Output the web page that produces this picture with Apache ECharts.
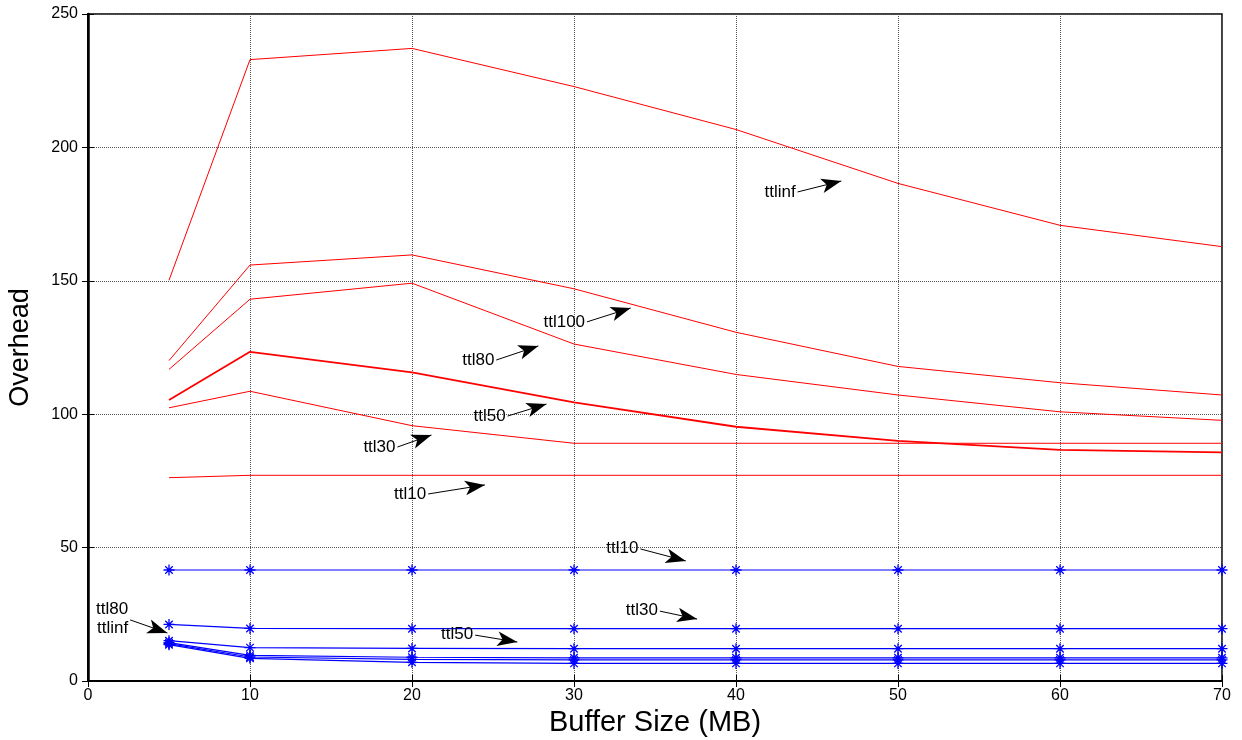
<!DOCTYPE html>
<html>
<head>
<meta charset="utf-8">
<script src="https://cdn.jsdelivr.net/npm/echarts@6/dist/echarts.min.js"></script>
<style>
  html, body { margin: 0; padding: 0; background: #fff; }
  #chart { width: 1242px; height: 740px; }
</style>
</head>
<body>
<div id="chart"></div>
<script>
const bufferSizes = [5, 10, 20, 30, 40, 50, 60, 70];

// red curves
const ttlinfRed = [150.2, 232.9, 237.1, 222.8, 206.7, 186.5, 170.8, 162.8];
const ttl100Red = [120.1, 155.9, 159.7, 147.0, 130.7, 117.9, 111.8, 107.2];
const ttl80Red = [116.8, 143.1, 149.1, 126.3, 114.9, 107.2, 100.9, 97.7];
const ttl50Red = [105.3, 123.4, 115.7, 104.4, 95.3, 90.0, 86.6, 85.7];
const ttl30Red = [102.4, 108.6, 95.7, 89.1, 89.1, 89.1, 89.1, 89.1];
const ttl10Red = [76.2, 77.1, 77.1, 77.1, 77.1, 77.1, 77.1, 77.1];

// blue curves (with * markers)
const ttl10Blue = [41.6, 41.6, 41.6, 41.6, 41.6, 41.6, 41.6, 41.6];
const ttl30Blue = [21.2, 19.7, 19.6, 19.6, 19.6, 19.6, 19.6, 19.6];
const ttl50Blue = [15.1, 12.5, 12.2, 12.1, 12.1, 12.1, 12.1, 12.1];
const ttl80Blue = [14.4, 9.6, 8.9, 8.7, 8.7, 8.7, 8.7, 8.7];
const ttl100Blue = [14.0, 9.0, 8.1, 7.9, 7.9, 7.9, 7.9, 7.9];
const ttlinfBlue = [13.6, 8.5, 7.0, 6.6, 6.6, 6.6, 6.6, 6.6];

// annotations: text, arrow start [x, y], arrow end [x, y]
const annotationText = ['ttlinf', 'ttl100', 'ttl80', 'ttl50', 'ttl30', 'ttl10',
  'ttl10', 'ttl30', 'ttl50', 'ttl80\nttlinf'];
const annotationFrom = [[43.8, 183.3], [30.8, 134.6], [25.2, 120.3], [25.9, 99.3], [19.1, 87.7],
  [21.0, 70.1], [34.1, 49.5], [35.3, 26.2], [23.9, 17.2], [2.6, 22.9]];
const annotationTo = [[46.5, 187.4], [33.5, 139.8], [27.8, 125.6], [28.3, 103.8], [21.2, 92.2],
  [24.5, 73.5], [36.9, 45.0], [37.6, 23.2], [26.5, 14.6], [4.9, 18.0]];

const xTicks = { min: 0, max: 70, interval: 10 };
const yTicks = { min: 0, max: 250, interval: 50 };

const FONT = '"Liberation Sans", Arial, sans-serif';
const asterisk = 'path://M0,5L10,5M5,0L5,10M1.6,1.6L8.4,8.4M8.4,1.6L1.6,8.4';

function pairs(values) {
  return bufferSizes.map((x, i) => [x, values[i]]);
}

function redSeries(name, values, width) {
  return {
    name: name,
    type: 'line',
    data: pairs(values),
    showSymbol: false,
    symbol: 'none',
    lineStyle: { color: '#ff0000', width: width || 1 },
    itemStyle: { color: '#ff0000' },
    emphasis: { disabled: true },
    silent: true,
    z: 3
  };
}

function blueSeries(name, values) {
  return {
    name: name,
    type: 'line',
    data: pairs(values),
    symbol: asterisk,
    symbolSize: 11,
    lineStyle: { color: '#0000ff', width: 1.2 },
    itemStyle: { color: '#0000ff', borderColor: '#0000ff', borderWidth: 1.3 },
    emphasis: { disabled: true },
    silent: true,
    z: 3
  };
}

const arrowLines = annotationText.map((text, i) => [
  {
    coord: annotationFrom[i],
    label: { show: true, formatter: text }
  },
  { coord: annotationTo[i] }
]);

const series = [
  redSeries('ttlinf', ttlinfRed),
  redSeries('ttl100', ttl100Red),
  redSeries('ttl80', ttl80Red),
  redSeries('ttl50', ttl50Red, 1.8),
  redSeries('ttl30', ttl30Red),
  redSeries('ttl10', ttl10Red),
  blueSeries('ttl10 b', ttl10Blue),
  blueSeries('ttl30 b', ttl30Blue),
  blueSeries('ttl50 b', ttl50Blue),
  blueSeries('ttl80 b', ttl80Blue),
  blueSeries('ttl100 b', ttl100Blue),
  blueSeries('ttlinf b', ttlinfBlue)
];

series[0].markLine = {
  silent: true,
  animation: false,
  symbol: ['none', 'arrow'],
  symbolSize: [11, 20],
  lineStyle: { color: '#000', width: 1, type: 'solid' },
  label: {
    show: true,
    position: 'start',
    distance: 2,
    color: '#000',
    fontFamily: FONT,
    fontSize: 17,
    lineHeight: 19
  },
  data: arrowLines
};

const chart = echarts.init(document.getElementById('chart'), null, { renderer: 'canvas' });

chart.setOption({
  animation: false,
  backgroundColor: '#fff',
  grid: {
    left: 88, right: 20, top: 14, bottom: 59,
    containLabel: false,
    outerBoundsMode: 'none',
    show: true, borderColor: '#000', borderWidth: 1.5, backgroundColor: 'transparent'
  },
  xAxis: [{
    type: 'value',
    min: xTicks.min, max: xTicks.max, interval: xTicks.interval,
    name: 'Buffer Size (MB)',
    nameLocation: 'middle',
    nameGap: 27,
    nameTextStyle: { color: '#000', fontFamily: FONT, fontSize: 29 },
    axisLine: { show: true, onZero: false, lineStyle: { color: '#000', width: 2 } },
    axisTick: { show: true, inside: true, length: 6, lineStyle: { color: '#000' } },
    axisLabel: { color: '#000', fontFamily: FONT, fontSize: 16, margin: 7 },
    splitLine: { show: true, lineStyle: { color: '#555', type: [1, 1], width: 1 } }
  }, {
    type: 'value', position: 'top',
    min: xTicks.min, max: xTicks.max, interval: xTicks.interval,
    axisLine: { show: true, lineStyle: { color: '#000', width: 1 } },
    axisTick: { show: true, inside: true, length: 6, lineStyle: { color: '#000' } },
    axisLabel: { show: false },
    splitLine: { show: false }
  }],
  yAxis: [{
    type: 'value',
    min: yTicks.min, max: yTicks.max, interval: yTicks.interval,
    name: 'Overhead',
    nameLocation: 'middle',
    nameGap: 54,
    nameTextStyle: { color: '#000', fontFamily: FONT, fontSize: 27 },
    axisLine: { show: true, onZero: false, lineStyle: { color: '#000', width: 2 } },
    axisTick: { show: true, inside: true, length: 6, lineStyle: { color: '#000' } },
    axisLabel: { color: '#000', fontFamily: FONT, fontSize: 16, margin: 10 },
    splitLine: { show: true, lineStyle: { color: '#555', type: [1, 1], width: 1 } }
  }, {
    type: 'value', position: 'right',
    min: yTicks.min, max: yTicks.max, interval: yTicks.interval,
    axisLine: { show: true, lineStyle: { color: '#000', width: 2.5 } },
    axisTick: { show: true, inside: true, length: 6, lineStyle: { color: '#000' } },
    axisLabel: { show: false },
    splitLine: { show: false }
  }],
  series: series
});
</script>
</body>
</html>
